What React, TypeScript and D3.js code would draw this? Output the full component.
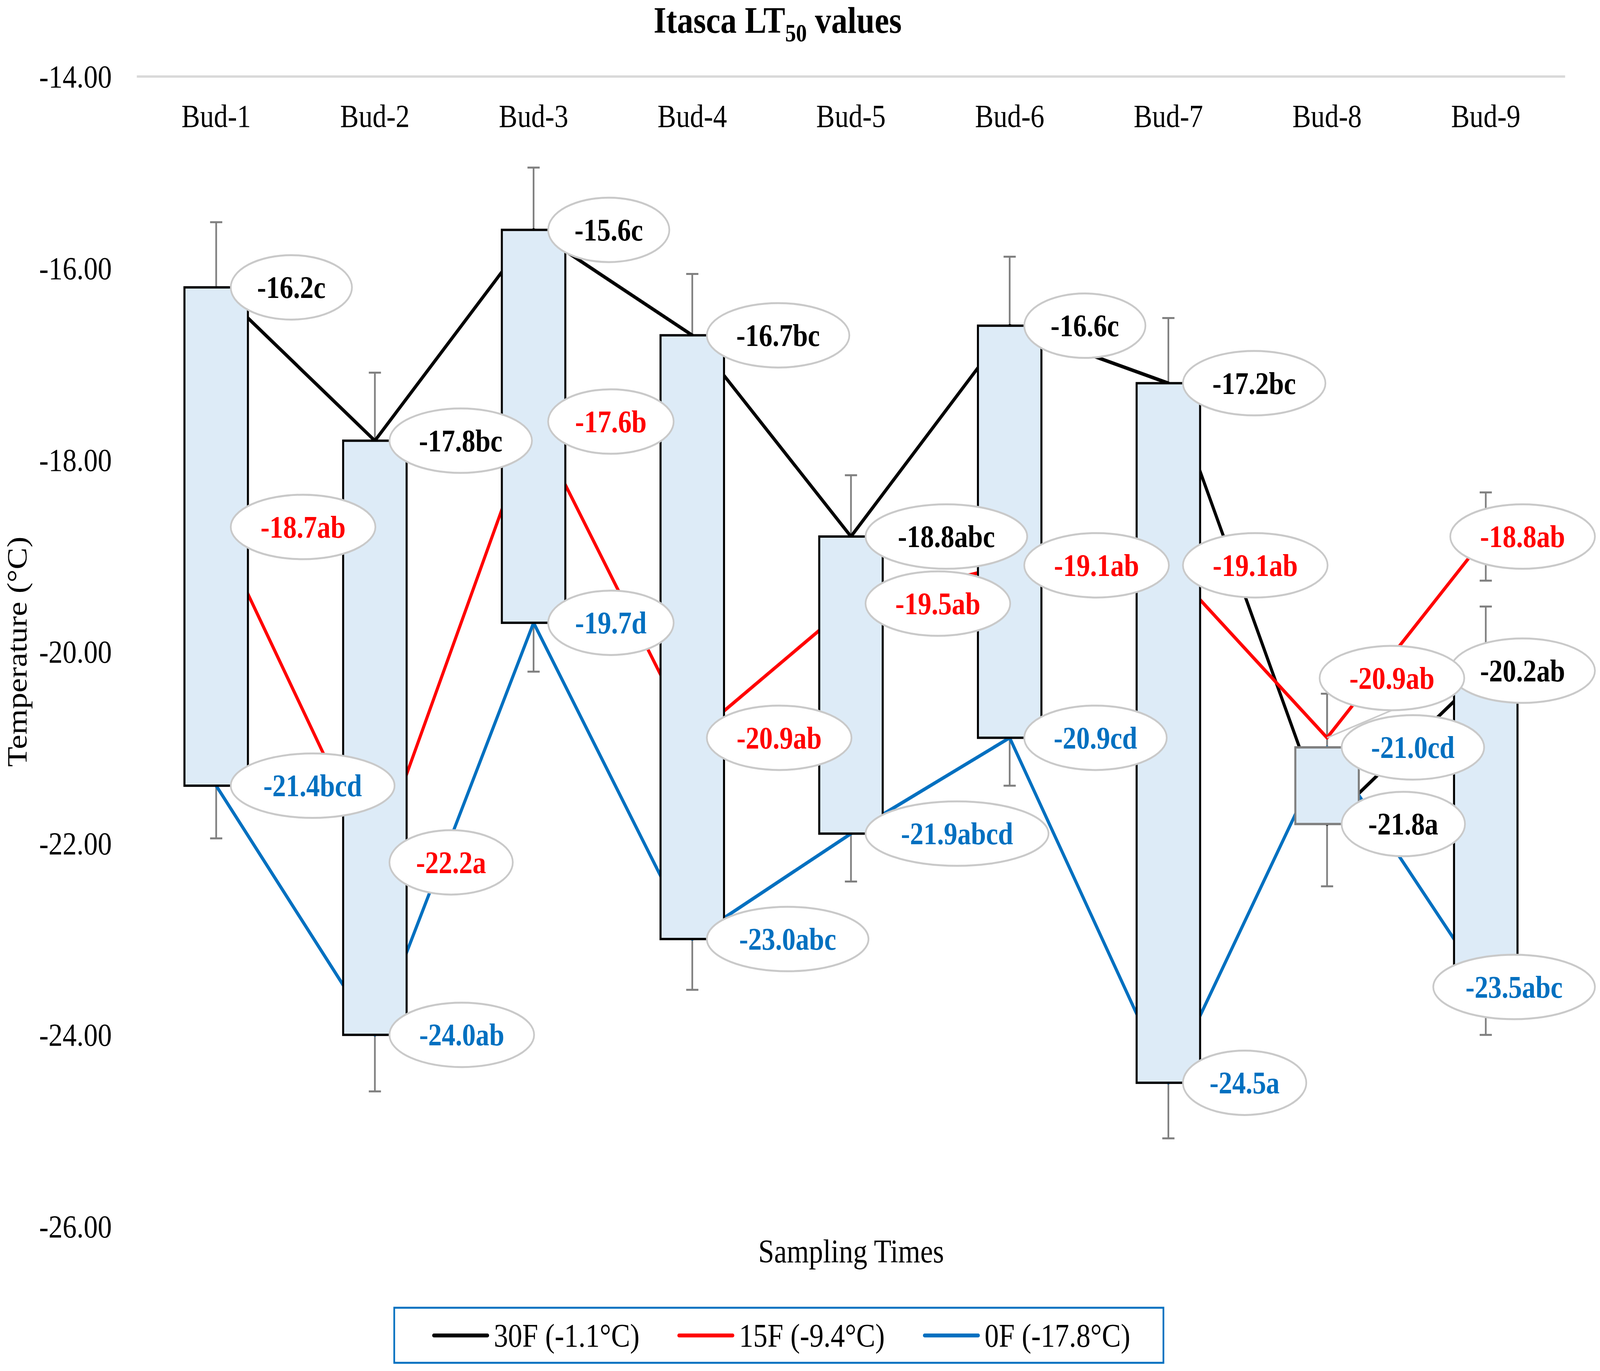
import React from "react";
import * as d3 from "d3";

const categories = ["Bud-1", "Bud-2", "Bud-3", "Bud-4", "Bud-5", "Bud-6", "Bud-7", "Bud-8", "Bud-9"];

// LT50 means per treatment
const s30F = [-16.2, -17.8, -15.6, -16.7, -18.8, -16.6, -17.2, -21.8, -20.2];
const s15F = [-18.7, -22.2, -17.6, -20.9, -19.5, -19.1, -19.1, -20.9, -18.8];
const s0F = [-21.4, -24.0, -19.7, -23.0, -21.9, -20.9, -24.5, -21.0, -23.5];

// mean separation letters
const letters30F = ["c", "bc", "c", "bc", "abc", "c", "bc", "a", "ab"];
const letters15F = ["ab", "a", "b", "ab", "ab", "ab", "ab", "ab", "ab"];
const letters0F = ["bcd", "ab", "d", "abc", "abcd", "cd", "a", "cd", "abc"];

// error bar sizes (+/-)
const err30F = [0.68, 0.71, 0.65, 0.64, 0.64, 0.72, 0.68, 0.65, 0.67];
const err15F = [0.5, 0.5, 0.5, 0.5, 0.5, 0.5, 0.5, 0.46, 0.46];
const err0F = [0.55, 0.59, 0.51, 0.53, 0.5, 0.5, 0.58, 0.56, 0.5];

const yTicks = [-14, -16, -18, -20, -22, -24, -26];

const legendNames = ["30F (-1.1°C)", "15F (-9.4°C)", "0F (-17.8°C)"];

const W = 4724;
const H = 3511;
const FONT = "'Liberation Serif', 'Times New Roman', serif";
const BOX_FILL = "#DDEBF7";
const ERR_COLOR = "#7F7F7F";
const LABEL_BORDER = "#C9C9C9";

const series = [
  { name: legendNames[0], values: s30F, letters: letters30F, err: err30F, color: "#000000" },
  { name: legendNames[1], values: s15F, letters: letters15F, err: err15F, color: "#FF0000" },
  { name: legendNames[2], values: s0F, letters: letters0F, err: err0F, color: "#0070C0" },
];

// the one label that was dragged off its point in the original
const movedLabel = { series: 1, index: 7, dx: -65, dy: -153 };

let ctx: CanvasRenderingContext2D | null = null;
function textWidth(s: string, font: string) {
  if (!ctx) ctx = document.createElement("canvas").getContext("2d");
  if (!ctx) return s.length * 40;
  ctx.font = font;
  return ctx.measureText(s).width;
}

export default function App() {
  const x = d3.scaleBand().domain(categories).range([404, 4621]).padding(0);
  const y = d3.scaleLinear().domain([-14, -26]).range([196, 3141]);
  const bw = x.bandwidth();
  const cx = (c: string) => (x(c) as number) + bw / 2;
  const boxW = bw * 0.4;

  const line = d3
    .line<number>()
    .x((_, i) => cx(categories[i]))
    .y((d) => y(d));

  const labelFont = `bold 80px ${FONT}`;

  const labels = series.flatMap((s, si) =>
    s.values.map((v, i) => {
      const text = `${v.toFixed(1)}${s.letters[i]}`;
      const tw = textWidth(text, labelFont);
      const ew = tw * 1.414 + 72;
      const eh = 165;
      const left = Math.min(cx(categories[i]) + 43, 4709 - ew);
      let ecx = left + ew / 2;
      let ecy = y(v);
      let leader = null as null | [number, number, number, number];
      if (movedLabel.series === si && movedLabel.index === i) {
        ecx += movedLabel.dx;
        ecy += movedLabel.dy;
        leader = [cx(categories[i]), y(v), ecx, ecy + eh / 2];
      }
      return { key: `${si}-${i}`, text, color: s.color, ecx, ecy, ew, eh, leader };
    })
  );

  return (
    <svg
      viewBox={`0 0 ${W} ${H}`}
      preserveAspectRatio="none"
      style={{ position: "fixed", left: 0, top: 0, width: "100vw", height: "100vh", background: "#fff" }}
      fontFamily={FONT}
    >
      <rect width={W} height={H} fill="#fff" />

      {/* title */}
      <text x={2296} y={84} textAnchor="middle" fontSize={96} fontWeight="bold">
        Itasca LT
        <tspan fontSize={64} dy={22}>50</tspan>
        <tspan dy={-22}> values</tspan>
      </text>

      {/* category axis sits at the top */}
      <line x1={404} x2={4621} y1={y(-14)} y2={y(-14)} stroke="#D9D9D9" strokeWidth={6} />
      {categories.map((c) => (
        <text key={c} x={cx(c)} y={325} textAnchor="middle" fontSize={82}>
          {c}
        </text>
      ))}

      {/* value axis labels */}
      {yTicks.map((t) => (
        <text key={t} x={330} y={y(t)} dy="0.34em" textAnchor="end" fontSize={83}>
          {t.toFixed(2)}
        </text>
      ))}

      <text transform="translate(78,1669) rotate(-90)" textAnchor="middle" fontSize={84}>
        Temperature (°C)
      </text>
      <text x={2513} y={3233} textAnchor="middle" fontSize={84}>
        Sampling Times
      </text>

      {/* error bars */}
      <g stroke={ERR_COLOR} strokeWidth={5}>
        {series.map((s, si) =>
          s.values.map((v, i) => {
            const xc = cx(categories[i]);
            const hi = y(v + s.err[i]);
            const lo = y(v - s.err[i]);
            return (
              <g key={`e${si}-${i}`}>
                <line x1={xc} x2={xc} y1={hi} y2={lo} />
                <line x1={xc - 18} x2={xc + 18} y1={hi} y2={hi} />
                <line x1={xc - 18} x2={xc + 18} y1={lo} y2={lo} />
              </g>
            );
          })
        )}
      </g>

      {/* series lines */}
      {series.map((s) => (
        <path
          key={s.name}
          d={line(s.values) as string}
          fill="none"
          stroke={s.color}
          strokeWidth={9}
          strokeLinejoin="round"
        />
      ))}

      {/* up/down bars between first and last series */}
      {categories.map((c, i) => {
        const a = s30F[i];
        const b = s0F[i];
        const up = b > a;
        const top = y(Math.max(a, b));
        const bottom = y(Math.min(a, b));
        return (
          <rect
            key={`box${c}`}
            x={cx(c) - boxW / 2}
            y={top}
            width={boxW}
            height={bottom - top}
            fill={BOX_FILL}
            stroke={up ? ERR_COLOR : "#000"}
            strokeWidth={6}
          />
        );
      })}

      {/* data labels */}
      {labels.map((l) => (
        <g key={l.key}>
          {l.leader && (
            <line
              x1={l.leader[0]}
              y1={l.leader[1]}
              x2={l.leader[2]}
              y2={l.leader[3]}
              stroke={LABEL_BORDER}
              strokeWidth={4}
            />
          )}
          <ellipse cx={l.ecx} cy={l.ecy} rx={l.ew / 2} ry={l.eh / 2} fill="#fff" stroke={LABEL_BORDER} strokeWidth={5} />
          <text
            x={l.ecx}
            y={l.ecy}
            dy="0.34em"
            textAnchor="middle"
            fontSize={80}
            fontWeight="bold"
            fill={l.color}
          >
            {l.text}
          </text>
        </g>
      ))}

      {/* legend */}
      <rect x={1164} y={3349} width={2271} height={141} fill="#fff" stroke="#0070C0" strokeWidth={5} />
      {series.map((s, i) => {
        const x0 = [1281, 2005, 2730][i];
        return (
          <g key={`lg${i}`}>
            <line x1={x0} x2={x0 + 158} y1={3420} y2={3420} stroke={s.color} strokeWidth={10} strokeLinecap="round" />
            <text x={x0 + 177} y={3420} dy="0.34em" fontSize={84}>
              {s.name}
            </text>
          </g>
        );
      })}
    </svg>
  );
}
